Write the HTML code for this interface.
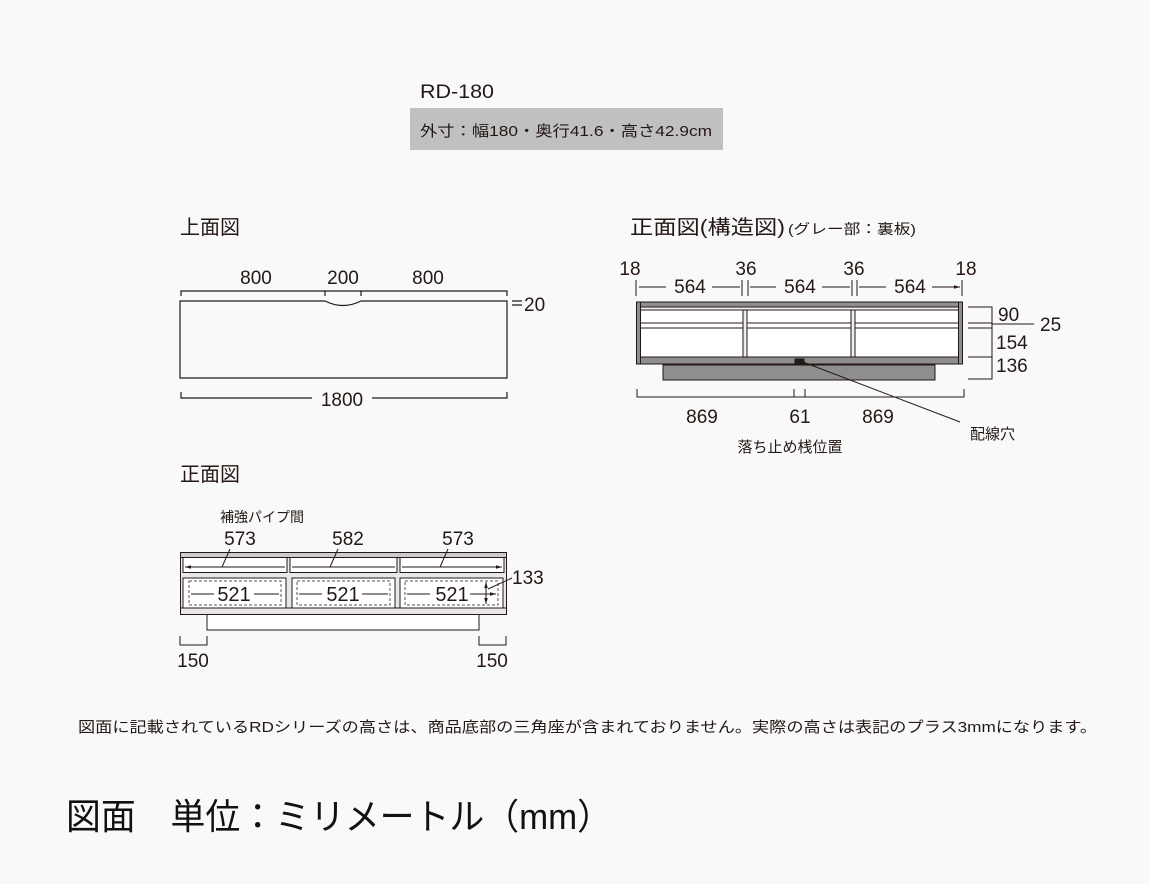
<!DOCTYPE html>
<html><head><meta charset="utf-8"><style>
html,body{margin:0;padding:0;background:#f9f9f9;}
svg{display:block;}
text{font-family:"Liberation Sans","Noto Sans CJK JP",sans-serif;fill:#231815;}
</style></head><body>
<svg width="1150" height="884" viewBox="0 0 1150 884" xmlns="http://www.w3.org/2000/svg">
<defs>
<marker id="a" viewBox="0 0 10 10" refX="10" refY="5" markerWidth="6" markerHeight="6" orient="auto-start-reverse"><path d="M0,2 L10,5 L0,8 z" fill="#231815"/></marker>
</defs>
<rect width="1150" height="884" fill="#f9f9f9"/>
<!-- header -->
<text x="420" y="98" font-size="19" textLength="74" lengthAdjust="spacingAndGlyphs">RD-180</text>
<rect x="410" y="108" width="313" height="42" fill="#c0c0c0"/>
<text x="420" y="136" font-size="15" textLength="292" lengthAdjust="spacingAndGlyphs">外寸：幅180・奥行41.6・高さ42.9cm</text>

<!-- headings -->
<text x="180" y="234" font-size="20">上面図</text>
<text x="630" y="234" font-size="20" textLength="155" lengthAdjust="spacingAndGlyphs">正面図(構造図)</text>
<text x="788" y="234" font-size="14" textLength="128" lengthAdjust="spacingAndGlyphs">(グレー部：裏板)</text>
<text x="180" y="481" font-size="20">正面図</text>

<g stroke="#231815" fill="none" stroke-width="1.2">
<!-- top view -->
<path d="M181,296 V291 H507 V296 M325,291 V296 M361,291 V296"/>
<path d="M180,301 H325 Q343,310 361,301 H507 V378 H180 Z"/>
<path d="M512,301 H522 M512,305 H522"/>
<path d="M181,392 V398 H312 M372,398 H507 V392"/>
</g>
<g font-size="19">
<text x="256" y="284" text-anchor="middle">800</text>
<text x="343" y="284" text-anchor="middle">200</text>
<text x="428" y="284" text-anchor="middle">800</text>
<text x="524" y="311">20</text>
<text x="342" y="406" text-anchor="middle">1800</text>
</g>

<!-- structure front view -->
<g stroke="#231815" stroke-width="1">
<path d="M636,280 V296 M742,280 V296 M748,280 V296 M852,280 V296 M857,280 V296 M962,280 V296" fill="none"/>
<path d="M666,287 H639 M712,287 H740 M776,287 H750 M822,287 H850 M886,287 H859 M932,287 H960" fill="none" marker-end="url(#a)"/>
</g>
<g font-size="19">
<text x="630" y="275" text-anchor="middle">18</text>
<text x="746" y="275" text-anchor="middle">36</text>
<text x="854" y="275" text-anchor="middle">36</text>
<text x="966" y="275" text-anchor="middle">18</text>
<text x="690" y="293" text-anchor="middle">564</text>
<text x="800" y="293" text-anchor="middle">564</text>
<text x="910" y="293" text-anchor="middle">564</text>
</g>
<g stroke="#231815" stroke-width="1">
<rect x="663" y="365" width="272" height="15" fill="#8e8e8e"/>
<rect x="636.5" y="302" width="326" height="62" fill="#fff"/>
<rect x="636.5" y="302" width="326" height="5" fill="#8e8e8e"/>
<rect x="640" y="307" width="319" height="3" fill="#eee"/>
<rect x="640" y="323" width="319" height="5" fill="#fff"/>
<rect x="743" y="310" width="4" height="47" fill="#eee"/>
<rect x="851" y="310" width="4" height="47" fill="#eee"/>
<rect x="636.5" y="357" width="326" height="7" fill="#8e8e8e"/>
<rect x="636.5" y="302" width="4" height="62" fill="#8e8e8e"/>
<rect x="958.5" y="302" width="4" height="62" fill="#8e8e8e"/>
<rect x="795" y="359" width="9" height="5" fill="#231815"/>
</g>
<g stroke="#231815" stroke-width="1" fill="none">
<path d="M968,307 H992 V379 H968 M968,323 H992 M968,328 H992 M968,357 H992 M992,324 H1034"/>
<path d="M803,362 L960,422"/>
<path d="M637,389 V397 H964 V389 M794,389 V397 M805,389 V397"/>
</g>
<g font-size="19">
<text x="998" y="321">90</text>
<text x="1040" y="331">25</text>
<text x="996" y="349">154</text>
<text x="996" y="372">136</text>
<text x="702" y="423" text-anchor="middle">869</text>
<text x="800" y="423" text-anchor="middle">61</text>
<text x="878" y="423" text-anchor="middle">869</text>
</g>
<text x="970" y="439" font-size="15">配線穴</text>
<text x="790" y="452" font-size="15" text-anchor="middle">落ち止め桟位置</text>

<!-- front view -->
<text x="220" y="522" font-size="14">補強パイプ間</text>
<g font-size="19">
<text x="240" y="545" text-anchor="middle">573</text>
<text x="348" y="545" text-anchor="middle">582</text>
<text x="458" y="545" text-anchor="middle">573</text>
<text x="512" y="584">133</text>
</g>
<g stroke="#231815" stroke-width="1">
<rect x="207" y="614" width="272" height="16" fill="#fff"/>
<rect x="180.5" y="552.5" width="326" height="62" fill="#e8e8e8"/>
<rect x="180.5" y="552.5" width="326" height="5" fill="#ccc"/>
<rect x="183" y="557.5" width="104" height="15" fill="#fff"/>
<rect x="290" y="557.5" width="107" height="15" fill="#fff"/>
<rect x="400" y="557.5" width="104" height="15" fill="#fff"/>
<rect x="183" y="578" width="103" height="30" fill="#fff"/>
<rect x="292" y="578" width="103" height="30" fill="#fff"/>
<rect x="400" y="578" width="103" height="30" fill="#fff"/>
<path d="M180.5,608 H506.5" fill="none"/>
</g>
<g stroke="#555" stroke-width="1" fill="none" stroke-dasharray="3,2">
<rect x="189" y="581" width="92" height="24"/>
<rect x="297" y="581" width="93" height="24"/>
<rect x="405" y="581" width="93" height="24"/>
</g>
<g stroke="#231815" stroke-width="1" fill="none">
<path d="M185,567 H285 M292,567 H395 M402,567 H502" marker-start="url(#a)" marker-end="url(#a)"/>
<path d="M214,594 H191 M254,594 H279 M322,594 H299 M362,594 H388 M430,594 H407 M470,594 H496" marker-end="url(#a)"/>
<path d="M486,582 V604" marker-start="url(#a)" marker-end="url(#a)"/>
<path d="M230,549 L222,567 M338,549 L330,567 M448,549 L440,567 M512,578 L488,589"/>
<path d="M180,636 V645 H207 V636 M479,636 V645 H506 V636"/>
</g>
<g font-size="20">
<text x="234" y="601" text-anchor="middle">521</text>
<text x="343" y="601" text-anchor="middle">521</text>
<text x="452" y="601" text-anchor="middle">521</text>
</g>
<g font-size="19">
<text x="193" y="667" text-anchor="middle">150</text>
<text x="492" y="667" text-anchor="middle">150</text>
</g>

<!-- footer -->
<text x="78" y="732" font-size="15" textLength="1019" lengthAdjust="spacingAndGlyphs">図面に記載されているRDシリーズの高さは、商品底部の三角座が含まれておりません。実際の高さは表記のプラス3mmになります。</text>
<text x="66" y="829" font-size="36" textLength="546" lengthAdjust="spacingAndGlyphs" style="fill:#111">図面　単位：ミリメートル（mm）</text>
</svg>
</body></html>
